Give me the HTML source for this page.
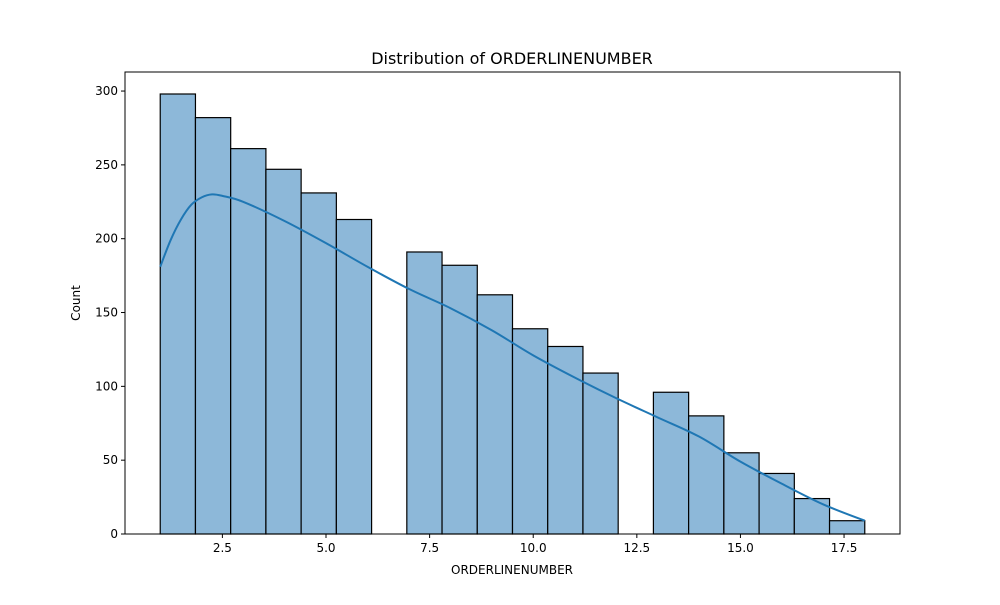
<!DOCTYPE html>
<html><head><meta charset="utf-8"><style>
body{margin:0;background:#fff;}
text{font-family:"DejaVu Sans","Liberation Sans",sans-serif;fill:#000;}
</style></head><body>
<svg id="chart" width="1000" height="600" xmlns="http://www.w3.org/2000/svg">
<rect width="1000" height="600" fill="#fff"/>
<text x="512" y="64" font-size="16" text-anchor="middle">Distribution of ORDERLINENUMBER</text>
<g id="bars"></g>
<g id="kde"></g>
<g id="axes"></g>
<text x="512" y="574" font-size="12" text-anchor="middle">ORDERLINENUMBER</text>
<text transform="translate(80,303) rotate(-90)" font-size="12" text-anchor="middle">Count</text>
</svg>
<script>
const binStart = 1;
const binWidth = 0.85;
const counts = [298,282,261,247,231,213,0,191,182,162,139,127,109,0,96,80,55,41,24,9];
const kdeX = [1,1.25,1.5,1.75,2,2.25,2.5,3,4,5,6,7,8,9,10,11,12,13,14,15,16,17,18];
const kdeY = [181,199,213,223,228,230,229,225,212,197,181,166,153,138,121,106,92,79,66,49,34,20,9];
const xTicks = [2.5,5.0,7.5,10.0,12.5,15.0,17.5];
const yTicks = [0,50,100,150,200,250,300];

const L=125,R=900,T=72,B=534;
const xMin=0.15,xMax=18.85,yMax=312.9;
function xs(v){return L+(v-xMin)/(xMax-xMin)*(R-L);}
function ys(v){return B-v/yMax*(B-T);}
const NS="http://www.w3.org/2000/svg";
function mk(tag,attrs,parent){const e=document.createElementNS(NS,tag);for(const k in attrs)e.setAttribute(k,attrs[k]);parent.appendChild(e);return e;}

const bars=document.getElementById('bars');
counts.forEach((c,i)=>{
  if(c<=0)return;
  const x0=xs(binStart+i*binWidth),x1=xs(binStart+(i+1)*binWidth);
  const r=mk('rect',{x:x0,y:ys(c),width:x1-x0,height:ys(0)-ys(c),fill:'#8db8d9',stroke:'#000','stroke-width':1.2},bars);
  
  
});
const kde=document.getElementById('kde');
let d='';
const pts=kdeX.map((x,i)=>[xs(x),ys(kdeY[i])]);
d='M'+pts[0][0]+','+pts[0][1];
for(let i=0;i<pts.length-1;i++){
  const p0=pts[Math.max(0,i-1)],p1=pts[i],p2=pts[i+1],p3=pts[Math.min(pts.length-1,i+2)];
  const c1=[p1[0]+(p2[0]-p0[0])/6,p1[1]+(p2[1]-p0[1])/6];
  const c2=[p2[0]-(p3[0]-p1[0])/6,p2[1]-(p3[1]-p1[1])/6];
  d+=` C${c1[0]},${c1[1]} ${c2[0]},${c2[1]} ${p2[0]},${p2[1]}`;
}
const kp=mk('path',{d:d,fill:'none',stroke:'#1f77b4','stroke-width':2},kde);



const axes=document.getElementById('axes');
const frame=mk('rect',{x:L,y:T,width:R-L,height:B-T,fill:'none',stroke:'#000','stroke-width':1},axes);


xTicks.forEach(t=>{
  const x=xs(t);
  mk('line',{x1:x,x2:x,y1:B,y2:B+4,stroke:'#000'},axes);
  const tx=mk('text',{x:x,y:B+18,'font-size':12,'text-anchor':'middle'},axes);
  tx.textContent=t.toFixed(1);
  
  
});
yTicks.forEach(t=>{
  const y=ys(t);
  mk('line',{x1:L-4,x2:L,y1:y,y2:y,stroke:'#000'},axes);
  const tx=mk('text',{x:L-7,y:y+4,'font-size':12,'text-anchor':'end'},axes);
  tx.textContent=t;
  
  
});
</script>
</body></html>
